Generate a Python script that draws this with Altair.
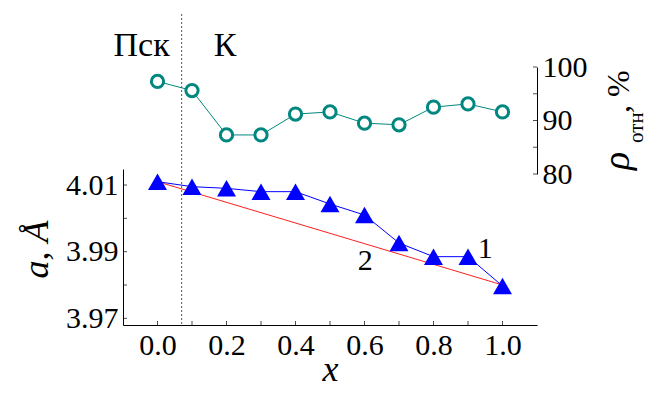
import altair as alt
import pandas as pd

# ---- data ----
x_vals = [0.0, 0.1, 0.2, 0.3, 0.4, 0.5, 0.6, 0.7, 0.8, 0.9, 1.0]
a_vals = [4.011, 4.0095, 4.009, 4.008, 4.008, 4.0043, 4.001, 3.9926, 3.9885, 3.9885, 3.9797]
rho_vals = [97.3, 95.6, 87.3, 87.3, 91.2, 91.6, 89.5, 89.2, 92.5, 93.1, 91.6]

vegard_x = [0.0, 1.0]
vegard_a = [4.011, 3.980]

boundary_x = [0.07]

phase_labels = ["Пск", "К"]
phase_x = [-0.046, 0.196]
phase_rho = [102.1, 102.1]

curve_labels = ["1", "2"]
curve_x = [0.95, 0.602]
curve_a = [3.9881, 3.9845]

x_ticks = [0.0, 0.1, 0.2, 0.3, 0.4, 0.5, 0.6, 0.7, 0.8, 0.9, 1.0]
x_labels = [0.0, 0.2, 0.4, 0.6, 0.8, 1.0]
a_ticks = [3.97, 3.98, 3.99, 4.00, 4.01]
a_labels = [3.97, 3.99, 4.01]
rho_ticks = [80, 85, 90, 95, 100]
rho_labels = [80, 90, 100]

# ---- layout / style ----
W, H = 414, 311
X_DOMAIN = [-0.1, 1.1]
A_DOMAIN = [3.968, 4.0148]
A_RANGE = [311, 155]
R_DOMAIN = [80, 100]
R_RANGE = [160, 53]
SERIF = "Liberation Serif"
TEAL = "#00877f"
BLUE = "#0000ff"
RED = "#ff2020"

main = pd.DataFrame({"x": x_vals, "a": a_vals, "rho": rho_vals})
vegard = pd.DataFrame({"x": vegard_x, "a": vegard_a})
boundary = pd.DataFrame({"x": boundary_x})
phase = pd.DataFrame({"x": phase_x, "rho": phase_rho, "t": phase_labels})
curve = pd.DataFrame({"x": curve_x, "a": curve_a, "t": curve_labels})
xt = pd.DataFrame({"x": x_ticks})
at = pd.DataFrame({"a": a_ticks})
rt = pd.DataFrame({"rho": rho_ticks})

x_scale = alt.Scale(domain=X_DOMAIN, nice=False, zero=False)
x_axis = alt.Axis(values=x_labels, format=".1f", title="x", ticks=False,
                  labelPadding=5, titleFontStyle="italic", titleFontSize=36,
                  titleFont=SERIF, titleFontWeight="normal",
                  titleBaseline="alphabetic", titleY=55)
a_scale = alt.Scale(domain=A_DOMAIN, range=A_RANGE, nice=False, zero=False)
r_scale = alt.Scale(domain=R_DOMAIN, range=R_RANGE, nice=False, zero=False)

X = alt.X("x:Q", scale=x_scale, axis=x_axis)

a_axis = alt.Axis(orient="left", values=a_labels, format=".2f", ticks=False,
                  labelPadding=5, title="a,  Å", titleFontStyle="italic",
                  titleFontSize=36, titleFont=SERIF, titleFontWeight="normal",
                  titleAngle=270, titleBaseline="alphabetic", titleAlign="center",
                  titleX=-76, titleY=235)
r_axis = alt.Axis(orient="right", values=rho_labels, format="d", ticks=False,
                  labelPadding=5, title=None)

boundary_rule = alt.Chart(boundary).mark_rule(
    color="#555555", strokeDash=[2, 2], strokeWidth=1
).encode(x=X)

red_line = alt.Chart(vegard).mark_line(color=RED, strokeWidth=1).encode(
    x=X, y=alt.Y("a:Q", scale=a_scale, axis=a_axis))

blue_line = alt.Chart(main).mark_line(color=BLUE, strokeWidth=1).encode(
    x=X, y=alt.Y("a:Q", scale=a_scale, axis=None))
blue_pts = alt.Chart(main).mark_point(
    shape="triangle-up", filled=True, size=360, color=BLUE, opacity=1
).encode(x=X, y=alt.Y("a:Q", scale=a_scale, axis=None))

teal_line = alt.Chart(main).mark_line(color=TEAL, strokeWidth=1).encode(
    x=X, y=alt.Y("rho:Q", scale=r_scale, axis=r_axis))
teal_pts = alt.Chart(main).mark_circle(
    size=150, fill="white", stroke=TEAL, strokeWidth=3, opacity=1, fillOpacity=1
).encode(x=X, y=alt.Y("rho:Q", scale=r_scale, axis=None))

phase_text = alt.Chart(phase).mark_text(
    font=SERIF, fontSize=34, color="black", align="center", baseline="alphabetic"
).encode(x=X, y=alt.Y("rho:Q", scale=r_scale, axis=None), text="t:N")

curve_text = alt.Chart(curve).mark_text(
    font=SERIF, fontSize=30, color="black", align="center", baseline="alphabetic"
).encode(x=X, y=alt.Y("a:Q", scale=a_scale, axis=None), text="t:N")

x_tick_marks = alt.Chart(xt).mark_tick(
    orient="vertical", size=4, thickness=1, color="black"
).encode(x=X, y=alt.value(H - 2))
a_tick_marks = alt.Chart(at).mark_tick(
    orient="horizontal", size=4, thickness=1, color="black"
).encode(x=alt.value(2), y=alt.Y("a:Q", scale=a_scale, axis=None))
r_tick_marks = alt.Chart(rt).mark_tick(
    orient="horizontal", size=4, thickness=1, color="black"
).encode(x=alt.value(W - 2), y=alt.Y("rho:Q", scale=r_scale, axis=None))

# right-hand axis title composed of pieces (subscript)
rho_sym = alt.Chart(pd.DataFrame({"t": ["ρ"]})).mark_text(
    font=SERIF, fontSize=38, fontStyle="italic", angle=270, align="left",
    baseline="alphabetic", color="black"
).encode(x=alt.value(506), y=alt.value(156), text="t:N")
rho_sub = alt.Chart(pd.DataFrame({"t": ["отн"]})).mark_text(
    font=SERIF, fontSize=21, angle=270, align="left",
    baseline="alphabetic", color="black"
).encode(x=alt.value(520), y=alt.value(129), text="t:N")
rho_unit = alt.Chart(pd.DataFrame({"t": [", %"]})).mark_text(
    font=SERIF, fontSize=32, angle=270, align="left",
    baseline="alphabetic", color="black"
).encode(x=alt.value(506), y=alt.value(99), text="t:N")

chart = alt.layer(
    boundary_rule, red_line, blue_line, blue_pts, teal_line, teal_pts,
    phase_text, curve_text, x_tick_marks, a_tick_marks, r_tick_marks,
    rho_sym, rho_sub, rho_unit
).resolve_scale(y="independent").properties(
    width=W, height=H,
    autosize=alt.AutoSizeParams(type="none"),
    padding={"left": 115, "top": 6, "right": 113, "bottom": 63},
).configure_view(strokeWidth=0).configure_axis(
    grid=False, domainColor="black", domainWidth=1,
    labelFont=SERIF, labelFontSize=30, labelColor="black",
    titleColor="black",
)

chart.save("out.html", embed_options={"renderer": "svg", "actions": False})
